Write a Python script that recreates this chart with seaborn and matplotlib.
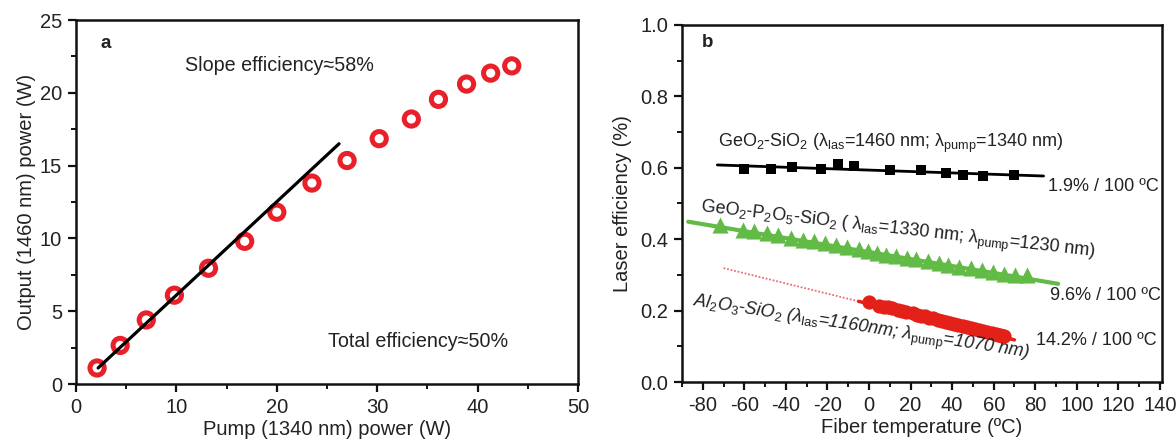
import numpy as np
import pandas as pd
import matplotlib
matplotlib.use("Agg")
import matplotlib.pyplot as plt
import seaborn as sns
from matplotlib.ticker import MultipleLocator

# ---------------- data: panel a ----------------
pump_power = [2.1, 4.4, 7.0, 9.8, 13.2, 16.8, 20.0, 23.5, 27.0, 30.2, 33.4, 36.1, 38.9, 41.3, 43.4]
output_power = [1.1, 2.65, 4.4, 6.1, 7.95, 9.8, 11.8, 13.8, 15.35, 16.85, 18.2, 19.55, 20.6, 21.35, 21.85]
fit_a_x = [2.2, 26.2]
fit_a_y = [1.1, 16.5]

# ---------------- data: panel b ----------------
geo_temp = [-60, -47, -37, -23, -15, -7, 10, 25, 37, 45, 55, 70]
geo_eff = [0.597, 0.597, 0.602, 0.596, 0.611, 0.604, 0.594, 0.594, 0.585, 0.581, 0.576, 0.580]
geo_fit_x = [-73, 84]
geo_fit_y = [0.608, 0.577]

gps_temp = [-71.6, -60.8, -55.4, -49.1, -43.7, -37.4, -32.0, -26.6, -21.2, -15.8, -10.4, -5.0,
            -0.6, 3.9, 8.4, 12.9, 18.3, 22.8, 28.2, 33.6, 38.1, 43.5, 48.9, 54.3, 59.7, 65.1,
            70.4, 75.8]
gps_eff = [0.439, 0.425, 0.422, 0.416, 0.411, 0.404, 0.399, 0.394, 0.388, 0.383, 0.378, 0.372,
           0.368, 0.362, 0.357, 0.352, 0.348, 0.344, 0.338, 0.333, 0.329, 0.323, 0.318, 0.313,
           0.308, 0.303, 0.299, 0.300]
gps_fit_x = [-87, 91]
gps_fit_y = [0.449, 0.275]

al_temp = [0, 5, 7, 9, 11, 14, 16, 18, 21, 23, 25, 27, 29, 31, 33, 35, 37, 39, 41, 43, 45,
           47, 49, 51, 53, 55, 57, 59, 61, 62, 63, 64, 65]
al_eff = [0.223, 0.214, 0.211, 0.209, 0.206, 0.201, 0.199, 0.197, 0.192, 0.189, 0.186, 0.184,
          0.180, 0.178, 0.175, 0.172, 0.169, 0.166, 0.163, 0.160, 0.157, 0.154, 0.151, 0.148,
          0.146, 0.143, 0.140, 0.137, 0.134, 0.133, 0.131, 0.130, 0.128]
al_dot_x = [-70, -5]
al_dot_y = [0.319, 0.226]
al_fit_x = [-5, 70]
al_fit_y = [0.226, 0.118]

# ---------------- style ----------------
sns.set_style("ticks")
plt.rcParams["font.family"] = ["Liberation Sans", "DejaVu Sans"]
plt.rcParams["mathtext.fontset"] = "custom"
plt.rcParams["mathtext.rm"] = "Liberation Sans"
plt.rcParams["mathtext.it"] = "Liberation Sans:italic"
plt.rcParams["mathtext.bf"] = "Liberation Sans:bold"
plt.rcParams["axes.unicode_minus"] = False

fig = plt.figure(figsize=(11.76, 4.45), dpi=100)
ax1 = fig.add_axes([76 / 1176, 1 - 384 / 445, (578 - 76) / 1176, (384 - 20) / 445])
ax2 = fig.add_axes([682 / 1176, 1 - 382 / 445, (1162 - 682) / 1176, (382 - 25) / 445])

text_c = "#222222"
fs = 14.5

def style_axis(ax):
    for s in ax.spines.values():
        s.set_linewidth(1.8)
        s.set_color("#111111")
    ax.tick_params(which="major", direction="out", length=6, width=1.6, labelsize=fs,
                   colors="#111111", labelcolor=text_c, pad=4)
    ax.tick_params(which="minor", direction="out", length=3.5, width=1.4, colors="#111111")

# ---------------- panel a ----------------
dfa = pd.DataFrame({"pump": pump_power, "out": output_power})
sns.scatterplot(data=dfa, x="pump", y="out", ax=ax1, marker="o", s=105,
                facecolor="none", edgecolor="#e8202a", linewidth=3.6, zorder=3)
sns.lineplot(x=fit_a_x, y=fit_a_y, ax=ax1, color="black", linewidth=2.3, zorder=4)
ax1.set_xlim(0, 50)
ax1.set_ylim(0, 25)
ax1.xaxis.set_major_locator(MultipleLocator(10))
ax1.xaxis.set_minor_locator(MultipleLocator(5))
ax1.yaxis.set_major_locator(MultipleLocator(5))
ax1.yaxis.set_minor_locator(MultipleLocator(2.5))
style_axis(ax1)
ax1.set_xlabel("Pump (1340 nm) power (W)", fontsize=fs, color=text_c, labelpad=2)
ax1.set_ylabel("Output (1460 nm) power (W)", fontsize=fs, color=text_c, labelpad=3)
ax1.text(2.4, 23.4, "a", fontsize=13.5, fontweight="bold", color=text_c, va="center")
ax1.text(10.9, 21.9, "Slope efficiency\u224858%", fontsize=14.2, color=text_c, va="center")
ax1.text(25.1, 2.95, "Total efficiency\u224850%", fontsize=14.2, color=text_c, va="center")

# ---------------- panel b ----------------
sns.lineplot(x=geo_fit_x, y=geo_fit_y, ax=ax2, color="black", linewidth=2, zorder=2)
sns.scatterplot(x=geo_temp, y=geo_eff, ax=ax2, marker="s", s=62, color="black",
                edgecolor="black", linewidth=0, zorder=3)

sns.lineplot(x=gps_fit_x, y=gps_fit_y, ax=ax2, color="#62bb46", linewidth=3, zorder=2)
sns.scatterplot(x=gps_temp, y=gps_eff, ax=ax2, marker="^", s=135, color="#62bb46",
                linewidth=0, zorder=3)

sns.lineplot(x=al_dot_x, y=al_dot_y, ax=ax2, color="#ec6a78", linewidth=1.3,
             linestyle=(0, (1, 1)), zorder=2)
sns.lineplot(x=al_fit_x, y=al_fit_y, ax=ax2, color="#e32119", linewidth=2.5, zorder=2)
sns.scatterplot(x=al_temp, y=al_eff, ax=ax2, marker="o", s=105, color="#e32119",
                linewidth=0, zorder=3)

ax2.set_xlim(-90, 141)
ax2.set_ylim(0, 1.0)
ax2.xaxis.set_major_locator(MultipleLocator(20))
ax2.xaxis.set_minor_locator(MultipleLocator(10))
ax2.yaxis.set_major_locator(MultipleLocator(0.2))
ax2.yaxis.set_minor_locator(MultipleLocator(0.1))
ax2.yaxis.set_major_formatter(matplotlib.ticker.FormatStrFormatter("%.1f"))
style_axis(ax2)
ax2.set_xlabel("Fiber temperature (\u00baC)", fontsize=fs, color=text_c, labelpad=2)
ax2.set_ylabel("Laser efficiency (%)", fontsize=fs, color=text_c, labelpad=6)

tfs = 13
ax2.text(-80.5, 0.951, "b", fontsize=13.5, fontweight="bold", color=text_c, va="center")
ax2.text(-72.5, 0.669,
         "GeO$_2$-SiO$_2$ (\u03bb$_{\\mathrm{las}}$=1460 nm; \u03bb$_{\\mathrm{pump}}$=1340 nm)",
         fontsize=tfs, color=text_c, va="center", ha="left")
ax2.text(86, 0.547, "1.9% / 100 \u00baC", fontsize=tfs, color=text_c, va="center")
ax2.text(-81, 0.486,
         "GeO$_2$-P$_2$O$_5$-SiO$_2$ ( \u03bb$_{\\mathrm{las}}$=1330 nm; \u03bb$_{\\mathrm{pump}}$=1230 nm)",
         fontsize=tfs, color=text_c, va="center", ha="left", rotation=-6.5,
         rotation_mode="anchor")
ax2.text(87, 0.242, "9.6% / 100 \u00baC", fontsize=tfs, color=text_c, va="center")
ax2.text(-85, 0.223,
         "$Al_2O_3$-SiO$_2$ (\u03bb$_{\\mathrm{las}}$=1160nm; \u03bb$_{\\mathrm{pump}}$=1070 nm)",
         fontsize=tfs, color=text_c, va="center", ha="left", rotation=-8.8,
         rotation_mode="anchor", style="italic")
ax2.text(80.5, 0.115, "14.2% / 100 \u00baC", fontsize=tfs, color=text_c, va="center")

fig.savefig("out.png", dpi=100)
